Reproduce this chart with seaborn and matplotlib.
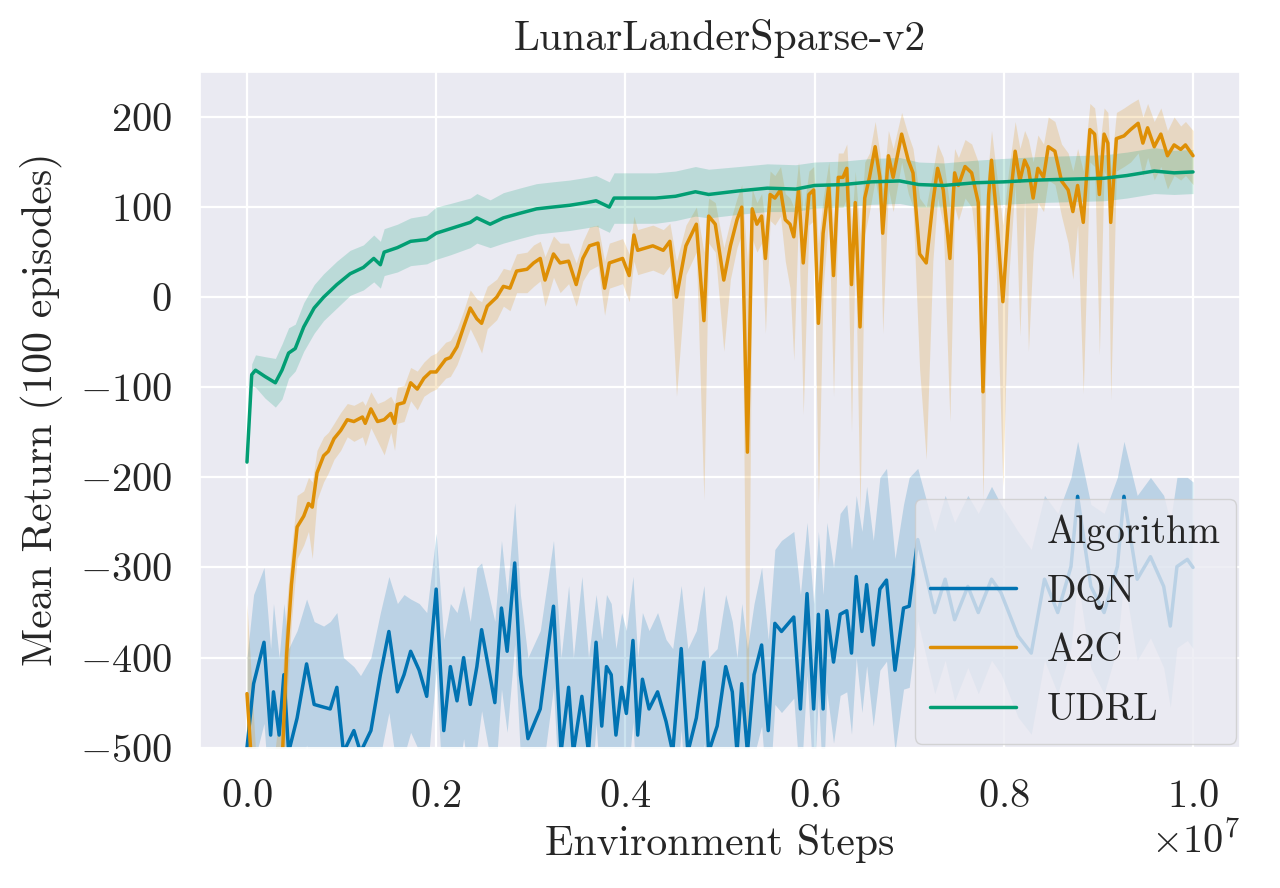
import numpy as np
import pandas as pd
import matplotlib
matplotlib.use('Agg')
import matplotlib.pyplot as plt
import seaborn as sns
from matplotlib.lines import Line2D

# values, steps in units of 1e6
dqn_steps = [0.00, 0.07, 0.18, 0.25, 0.28, 0.34, 0.39, 0.44, 0.53, 0.63, 0.71, 0.81, 0.88, 0.95,
             1.02, 1.13, 1.20, 1.31, 1.41, 1.50, 1.59, 1.66, 1.73, 1.82, 1.90, 2.00, 2.08, 2.15,
             2.22, 2.29, 2.36, 2.43, 2.48, 2.62, 2.69, 2.75, 2.83, 2.89, 2.97, 3.10, 3.24, 3.32,
             3.40, 3.45, 3.54, 3.61, 3.69, 3.75, 3.80, 3.85, 3.90, 3.96, 4.01, 4.08, 4.13, 4.18,
             4.25, 4.34, 4.43, 4.50, 4.59, 4.66, 4.75, 4.83, 4.88, 4.97, 5.06, 5.13, 5.18, 5.23,
             5.29, 5.36, 5.44, 5.51, 5.58, 5.65, 5.78, 5.85, 5.92, 5.99, 6.04, 6.09, 6.13, 6.20,
             6.27, 6.34, 6.39, 6.44, 6.50, 6.55, 6.62, 6.69, 6.76, 6.85, 6.94, 7.00, 7.09, 7.27,
             7.38, 7.48, 7.62, 7.73, 7.87, 7.97, 8.15, 8.29, 8.43, 8.57, 8.71, 8.78, 8.92, 9.06,
             9.20, 9.27, 9.41, 9.55, 9.69, 9.76, 9.83, 9.94, 10.00]
dqn_mean = [-500, -429, -383, -486, -438, -486, -419, -505, -467, -407, -452, -455, -457, -433,
            -505, -481, -505, -481, -419, -371, -438, -419, -393, -414, -443, -324, -481, -410,
            -448, -400, -452, -410, -369, -450, -345, -393, -295, -419, -490, -457, -343, -505,
            -433, -505, -443, -505, -383, -476, -410, -419, -486, -433, -462, -381, -486, -424,
            -457, -438, -471, -505, -390, -505, -467, -405, -505, -476, -410, -438, -505, -429,
            -505, -419, -386, -481, -362, -371, -355, -457, -329, -457, -352, -457, -348, -405,
            -352, -348, -395, -310, -371, -319, -386, -324, -314, -414, -345, -343, -269, -350,
            -313, -358, -321, -350, -313, -328, -376, -395, -313, -350, -299, -221, -321, -350,
            -299, -221, -313, -288, -321, -365, -299, -291, -300]
dqn_hi = [-400, -330, -300, -390, -340, -400, -340, -390, -370, -335, -360, -365, -360, -350,
          -400, -410, -420, -400, -350, -310, -340, -330, -335, -340, -350, -262, -380, -340,
          -350, -320, -360, -300, -295, -360, -270, -330, -228, -330, -400, -370, -270, -400,
          -320, -400, -310, -400, -330, -380, -330, -340, -390, -350, -370, -310, -400, -350,
          -370, -350, -380, -390, -320, -390, -370, -320, -400, -390, -330, -360, -400, -340,
          -390, -340, -300, -380, -280, -270, -260, -330, -250, -340, -260, -330, -250, -300,
          -240, -230, -280, -220, -260, -210, -270, -200, -190, -290, -230, -200, -190, -260,
          -220, -250, -220, -240, -210, -230, -260, -280, -220, -240, -200, -160, -230, -240,
          -200, -160, -220, -200, -220, -250, -200, -200, -205]
dqn_lo = [m - 90 for m in dqn_mean]

a2c_steps = [0.00, 0.10, 0.20, 0.30, 0.37, 0.42, 0.47, 0.53, 0.60, 0.65, 0.69, 0.74, 0.81, 0.86,
             0.92, 0.99, 1.06, 1.13, 1.22, 1.25, 1.31, 1.38, 1.45, 1.52, 1.56, 1.59, 1.66, 1.73,
             1.80, 1.87, 1.94, 2.00, 2.10, 2.15, 2.22, 2.29, 2.36, 2.43, 2.48, 2.54, 2.64, 2.71,
             2.78, 2.85, 2.96, 3.03, 3.10, 3.15, 3.24, 3.31, 3.40, 3.48, 3.55, 3.62, 3.71, 3.78,
             3.83, 3.97, 4.04, 4.09, 4.13, 4.29, 4.40, 4.47, 4.54, 4.64, 4.75, 4.83, 4.88, 4.95,
             5.04, 5.11, 5.18, 5.23, 5.29, 5.34, 5.39, 5.44, 5.48, 5.53, 5.58, 5.64, 5.69, 5.74,
             5.78, 5.83, 5.88, 5.94, 5.99, 6.04, 6.09, 6.15, 6.20, 6.25, 6.30, 6.34, 6.39, 6.43,
             6.48, 6.53, 6.58, 6.64, 6.69, 6.72, 6.78, 6.83, 6.92, 6.99, 7.04, 7.11, 7.18, 7.25,
             7.30, 7.36, 7.43, 7.48, 7.52, 7.59, 7.66, 7.73, 7.78, 7.84, 7.87, 7.92, 7.99, 8.05,
             8.12, 8.17, 8.22, 8.26, 8.31, 8.36, 8.42, 8.47, 8.54, 8.61, 8.68, 8.73, 8.78, 8.84,
             8.91, 8.96, 9.01, 9.06, 9.10, 9.13, 9.19, 9.27, 9.34, 9.42, 9.47, 9.52, 9.59, 9.66,
             9.73, 9.80, 9.87, 9.92, 10.00]
a2c_mean = [-440, -600, -620, -590, -520, -395, -319, -255, -243, -229, -233, -195, -176, -171,
            -157, -148, -136, -138, -133, -140, -124, -138, -136, -129, -140, -119, -117, -95,
            -102, -90, -83, -83, -69, -67, -55, -33, -12, -24, -29, -10, 0, 12,
            10, 29, 31, 38, 43, 19, 48, 38, 40, 14, 43, 57, 60, 10,
            38, 43, 24, 69, 52, 57, 52, 62, 0, 57, 81, -26, 90, 81,
            19, 57, 86, 100, -172, 98, 81, 90, 43, 114, 110, 119, 86, 81,
            67, 119, 38, 114, 119, -29, 71, 124, 24, 133, 133, 143, 14, 105,
            -33, 110, 133, 167, 133, 71, 157, 133, 181, 152, 138, 48, 38, 105,
            143, 119, 43, 138, 124, 145, 138, 105, -105, 114, 152, 95, -5, 90,
            162, 129, 152, 143, 110, 143, 133, 167, 162, 129, 119, 95, 124, 83,
            186, 181, 114, 181, 171, 83, 176, 179, 186, 193, 171, 188, 167, 181,
            157, 169, 164, 169, 157]
a2c_lo = [-560, -700, -720, -690, -600, -450, -360, -290, -275, -260, -290, -225, -205, -195,
          -180, -170, -155, -160, -155, -165, -145, -160, -175, -150, -170, -140, -138, -115,
          -125, -110, -105, -102, -90, -88, -75, -55, -35, -50, -62, -35, -25, -10,
          -15, 5, 5, 12, 18, -10, 22, 5, 15, -10, 18, 30, 35, -20,
          10, 15, -5, 40, 25, 30, 25, 35, -110, 25, 50, -225, 60, 50,
          -60, 20, 55, 70, -560, 65, 50, 60, -40, 85, 80, 90, 40, 10,
          -70, 90, -130, 80, 85, -230, 10, 90, -110, 100, 100, 110, -150, 60,
          -240, 70, 95, 130, 100, -40, 120, 95, 150, 115, 100, -80, -180, 40,
          110, 80, -138, 100, 85, 110, 100, 40, -225, 70, 115, 30, -210, 20,
          125, -43, 110, -60, 50, 105, 95, 130, 125, 90, 60, 20, 80, -107,
          150, 145, -64, 140, 130, -114, 140, 145, 150, 160, 135, 155, 130, 145,
          120, 135, 130, 135, 125]
a2c_hi = [-340, -520, -540, -500, -430, -340, -280, -220, -215, -200, -205, -170, -155, -150,
          -140, -128, -118, -120, -115, -120, -105, -118, -115, -110, -118, -100, -98, -78,
          -82, -72, -65, -62, -50, -48, -35, -15, 8, -2, -5, 12, 20, 32,
          30, 48, 50, 58, 62, 45, 68, 60, 60, 38, 62, 78, 80, 40,
          60, 65, 48, 90, 75, 80, 75, 82, 40, 80, 100, 50, 110, 105,
          55, 85, 110, 125, 40, 120, 105, 115, 80, 140, 135, 145, 115, 110,
          100, 150, 95, 140, 145, 60, 110, 150, 80, 160, 160, 170, 80, 140,
          70, 150, 160, 195, 160, 120, 185, 165, 205, 180, 165, 110, 100, 140,
          170, 155, 100, 165, 155, 175, 170, 150, 60, 150, 185, 140, 80, 140,
          195, 165, 185, 175, 150, 180, 170, 200, 195, 170, 160, 140, 165, 140,
          215, 210, 165, 210, 205, 140, 205, 210, 215, 220, 200, 215, 195, 210,
          185, 200, 190, 195, 185]

udrl_steps = [0.00, 0.05, 0.09, 0.19, 0.30, 0.37, 0.44, 0.51, 0.60, 0.71, 0.81, 0.95, 1.09, 1.23,
              1.34, 1.41, 1.45, 1.59, 1.73, 1.90, 2.00, 2.15, 2.36, 2.43, 2.57, 2.71, 2.88, 3.06,
              3.23, 3.41, 3.59, 3.69, 3.83, 3.88, 4.11, 4.32, 4.53, 4.74, 4.88, 5.20, 5.50, 5.80,
              6.00, 6.30, 6.60, 6.90, 7.10, 7.36, 7.70, 8.00, 8.36, 8.70, 9.06, 9.30, 9.59, 9.80,
              10.00]
udrl_mean = [-183, -86, -81, -88, -95, -81, -62, -57, -33, -12, 0, 14, 26, 33,
             43, 36, 50, 55, 62, 64, 71, 76, 83, 88, 81, 88, 93, 98,
             100, 102, 105, 107, 100, 110, 110, 110, 112, 117, 114, 118, 121, 120,
             124, 125, 128, 129, 125, 124, 127, 128, 130, 131, 132, 135, 140, 138,
             139]
udrl_lo = [-190, -98, -100, -112, -122, -113, -90, -82, -60, -40, -26, -12, 2, 8,
           17, 10, 24, 28, 35, 37, 42, 47, 55, 60, 55, 60, 65, 70,
           72, 74, 77, 79, 72, 82, 82, 82, 85, 90, 88, 92, 95, 95,
           99, 100, 103, 104, 100, 100, 102, 103, 105, 106, 107, 110, 115, 114,
           115]
udrl_hi = [-176, -74, -64, -66, -68, -52, -34, -30, -6, 14, 26, 40, 52, 58,
           69, 62, 76, 81, 88, 91, 100, 104, 110, 115, 108, 116, 121, 126,
           128, 130, 133, 135, 128, 138, 138, 138, 140, 145, 142, 145, 148, 147,
           150, 151, 154, 155, 150, 149, 152, 154, 156, 157, 158, 161, 166, 163,
           164]

algorithms = ['DQN', 'A2C', 'UDRL']
colors = sns.color_palette('colorblind', 3)

sns.set_theme(style='darkgrid')
plt.rcParams['font.family'] = ['cmr10', 'DejaVu Serif']
plt.rcParams['mathtext.fontset'] = 'cm'
plt.rcParams['axes.formatter.use_mathtext'] = True
plt.rcParams['grid.linewidth'] = 1.6

series = {
    'DQN': (dqn_steps, dqn_mean, dqn_lo, dqn_hi),
    'A2C': (a2c_steps, a2c_mean, a2c_lo, a2c_hi),
    'UDRL': (udrl_steps, udrl_mean, udrl_lo, udrl_hi),
}

frames = []
for name, (steps, mean, lo, hi) in series.items():
    frames.append(pd.DataFrame({'Environment Steps': np.array(steps) * 1e6,
                                'Mean Return': mean, 'Algorithm': name}))
df = pd.concat(frames, ignore_index=True)

fig = plt.figure(figsize=(12.8, 8.88), dpi=100)
ax = fig.add_axes([0.156, 0.158, 0.813, 0.761])

sns.lineplot(data=df, x='Environment Steps', y='Mean Return', hue='Algorithm',
             hue_order=algorithms, palette=colors, errorbar=None, linewidth=2.5,
             legend=False, ax=ax)

for i, name in enumerate(algorithms):
    steps, mean, lo, hi = series[name]
    ax.fill_between(np.array(steps) * 1e6, lo, hi, color=colors[i], alpha=0.2, linewidth=0)

ax.set_ylim(-500, 250)
ax.set_xlim(-0.05e7, 1.05e7)
ax.set_yticks([-500, -400, -300, -200, -100, 0, 100, 200])
ax.set_title('LunarLanderSparse-v2', fontsize=30, pad=16)
ax.set_xlabel('Environment Steps', fontsize=30, labelpad=6)
ax.set_ylabel('Mean Return (100 episodes)', fontsize=30, labelpad=12)
ax.tick_params(axis='both', labelsize=29)
ax.tick_params(axis='y', pad=14)
ax.tick_params(axis='x', pad=17)
ax.xaxis.get_offset_text().set_fontsize(29)

handles = [Line2D([], [], linestyle='none')]
handles += [Line2D([0], [0], color=colors[i], lw=2.5) for i in range(3)]
labels = ['Algorithm'] + algorithms
ax.legend(handles, labels, loc='lower right', fontsize=28, handlelength=2.2,
          labelspacing=0.6, borderaxespad=0.1)

fig.savefig('out.png', dpi=100)
